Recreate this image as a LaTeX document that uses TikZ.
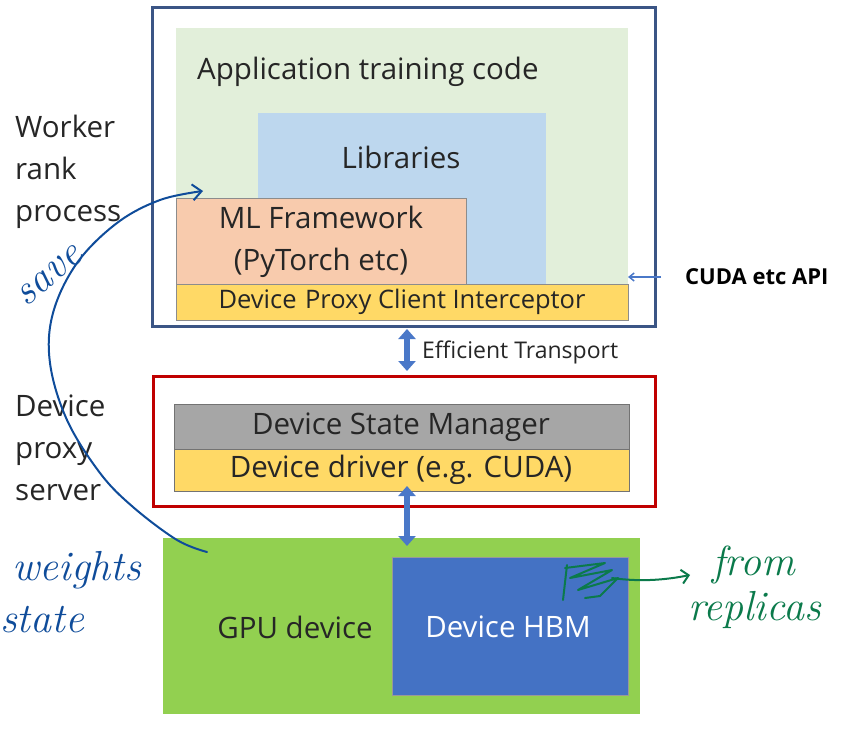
\documentclass[tikz,border=0pt]{standalone}
\usepackage{fontspec}
\setmainfont{Open Sans}
\newfontfamily\handfont{Latin Modern Roman}
\usetikzlibrary{arrows.meta}
\definecolor{navy}{HTML}{3B5585}
\definecolor{redbox}{HTML}{C00000}
\definecolor{lightgreen}{HTML}{E2EFDA}
\definecolor{libblue}{HTML}{BDD7EE}
\definecolor{salmon}{HTML}{F8CBAD}
\definecolor{yel}{HTML}{FFD966}
\definecolor{greybox}{HTML}{A6A6A6}
\definecolor{gpugreen}{HTML}{92D050}
\definecolor{hbmblue}{HTML}{4472C4}
\definecolor{arrowblue}{HTML}{4A78C8}
\definecolor{pen}{HTML}{0F4C9A}
\definecolor{greenpen}{HTML}{0B7A4B}
\tikzset{
  fillbox/.style={anchor=north west, inner sep=0pt, outer sep=0pt},
  outlinebox/.style={fillbox, draw=#1, line width=3pt},
  lbl/.style={font=\fontsize{29.5}{42}\selectfont, text=black!85, inner sep=0pt},
  sidelbl/.style={font=\fontsize{29.5}{42}\selectfont, text=black!85, align=left, anchor=west, inner sep=0pt},
  dblarrow/.style={arrowblue, line width=6pt, {Triangle[width=17pt,length=10pt]}-{Triangle[width=17pt,length=10pt]}},
  hand/.style={font=\handfont\itshape\fontsize{42}{44}\selectfont, inner sep=0pt},
}
\begin{document}
\begin{tikzpicture}[x=1pt,y=-1pt]
\useasboundingbox (0,0) rectangle (850,754);
% worker box
\node[fillbox, fill=lightgreen, minimum width=452pt, minimum height=258pt] (appbg) at (176,28) {};
\node[fillbox, fill=libblue, minimum width=288pt, minimum height=172pt] (lib) at (258,113) {};
\node[fillbox, fill=salmon, draw=black!45, line width=0.8pt, minimum width=290pt, minimum height=87pt] (ml) at (176,198) {};
\node[fillbox, fill=yel, draw=black!45, line width=0.8pt, minimum width=452pt, minimum height=36pt] (icpt) at (176,284) {};
\node[outlinebox=navy, minimum width=503pt, minimum height=318pt] (worker) at (152,8) {};
\node[lbl, anchor=west] (apptxt) at (197,72) {Application training code};
\node[lbl] (libtxt) at (401,157) {Libraries};
\node[lbl, align=center] (mltxt) at (321,242) {ML Framework\\(PyTorch etc)};
\node[lbl, font=\fontsize{25.5}{28}\selectfont] (icpttxt) at (402,302) {Device\,\,Proxy Client Interceptor};
% side labels
\node[sidelbl] (wlbl) at (15,172) {Worker\\rank\\process};
\node[sidelbl] (dlbl) at (15,448) {Device\\proxy\\server};
% CUDA API
\node[font=\bfseries\fontsize{22}{24}\selectfont, anchor=west, inner sep=0pt] (api) at (685,277) {CUDA etc API};
\draw[arrowblue, line width=1.5pt, -{Straight Barb[length=5pt,width=8pt]}] (api.west) ++(-24,0) -- (appbg.east |- api.west);
% proxy server box
\node[outlinebox=redbox, minimum width=502pt, minimum height=130pt] (proxy) at (153,376) {};
\node[fillbox, fill=greybox, draw=black!55, line width=0.8pt, minimum width=455pt, minimum height=45pt] (dsm) at (174,404) {};
\node[fillbox, fill=yel, draw=black!55, line width=0.8pt, minimum width=455pt, minimum height=42pt] (drv) at (174,449) {};
\node[lbl] (dsmtxt) at (401,427) {Device State Manager};
\node[lbl] (drvtxt) at (401,470) {Device driver (e.g. CUDA)};
% transport arrow
\draw[dblarrow] (407,329) -- (407,371);
\node[font=\fontsize{23}{25}\selectfont, text=black!85, anchor=west, inner sep=0pt] (eff) at (422,352) {Efficient Transport};
% GPU
\node[fillbox, fill=gpugreen, minimum width=477pt, minimum height=176pt] (gpu) at (163,538) {};
\node[fillbox, fill=hbmblue, draw=black!40, line width=0.8pt, minimum width=236pt, minimum height=138pt] (hbm) at (392,557) {};
\node[lbl] (gputxt) at (295,627) {GPU device};
\node[lbl, text=white] (hbmtxt) at (508,627) {Device HBM};
\draw[dblarrow] (407,486) -- (407,546);
% handwritten blue
\coordinate (cs) at (207,552);
\coordinate (ce) at (203,191);
\draw[pen, line width=2pt, line cap=round, -{Straight Barb[length=9pt,width=16pt]}]
  plot[smooth, tension=0.6] coordinates {(cs) (177,540) (133,507) (100,473) (67,420) (50,363) (53,313) (77,263) (117,223) (160,200) (ce)};
\node[hand, text=pen, rotate=40] (save) at (50,276) {save};
\node[hand, text=pen, anchor=west] (wt) at (12,570) {weights};
\node[hand, text=pen, anchor=west] (st) at (0,620) {state};
% handwritten green
\coordinate (gs) at (612,578);
\coordinate (ge) at (690,575);
\draw[greenpen, line width=2pt, line cap=round, line join=round]
  (565,568) -- (605,563) -- (570,578) -- (612,570) -- (578,590) -- (618,578) -- (600,596) -- (585,598);
\draw[greenpen, line width=2pt, line cap=round] (567,565) -- (563,600);
\draw[greenpen, line width=2pt, line cap=round, -{Straight Barb[length=7pt,width=14pt]}]
  (gs) .. controls (640,582) and (665,580) .. (ge);
\node[hand, text=greenpen, anchor=west] (from) at (712,565) {from};
\node[hand, text=greenpen, anchor=west] (repl) at (688,610) {replicas};
\end{tikzpicture}
\end{document}
